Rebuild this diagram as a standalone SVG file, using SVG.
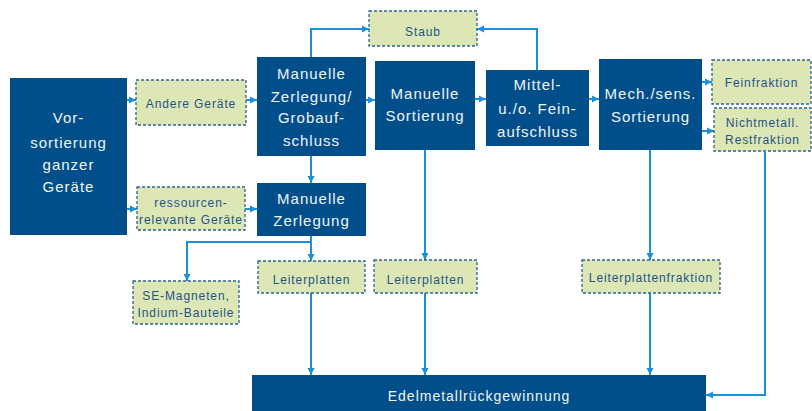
<svg xmlns="http://www.w3.org/2000/svg" width="812" height="411" viewBox="0 0 812 411">
<defs>
<style>
.b{fill:#004f8a}
.g{fill:#dde6b5;stroke:#2c6196;stroke-width:1.3;stroke-dasharray:3,2}
.tw{font-family:"Liberation Sans",Arial,sans-serif;font-size:15px;fill:#f0f4f8;letter-spacing:1px;text-anchor:middle}
.tg{font-family:"Liberation Sans",Arial,sans-serif;font-size:12px;fill:#1f5487;letter-spacing:0.9px;text-anchor:middle}
.c{fill:none;stroke:#1b8fdb;stroke-width:2;marker-end:url(#a)}
</style>
<marker id="a" markerUnits="userSpaceOnUse" markerWidth="8" markerHeight="8" refX="7" refY="4" orient="auto">
<path d="M0,0.5 L7,4 L0,7.5 z" fill="#1b8fdb"/>
</marker>
</defs>
<g id="connectors">
<path class="c" d="M127,100 H136"/>
<path class="c" d="M246,100 H257"/>
<path class="c" d="M127,209 H137"/>
<path class="c" d="M245,209 H257"/>
<path class="c" d="M311,57 V29 H369"/>
<path class="c" d="M537,70 V29 H477"/>
<path class="c" d="M366,100 H375"/>
<path class="c" d="M475,99 H486"/>
<path class="c" d="M589,99 H599"/>
<path class="c" d="M702,82 H712"/>
<path class="c" d="M702,131 H714"/>
<path class="c" d="M311,156 V183"/>
<path class="c" d="M311,236 V261"/>
<path class="c" d="M311,242 H187 V281"/>
<path class="c" d="M311,293 V375"/>
<path class="c" d="M425,150 V260"/>
<path class="c" d="M425,293 V375"/>
<path class="c" d="M650,150 V260"/>
<path class="c" d="M650,293 V375"/>
<path class="c" d="M765,152 V395 H706"/>
</g>
<g id="vorsortierung"><rect class="b" x="10" y="78" width="117" height="157"/>
<text class="tw" x="68.5" y="123">Vor-</text><text class="tw" x="68.5" y="148">sortierung</text><text class="tw" x="68.5" y="170">ganzer</text><text class="tw" x="68.5" y="192">Geräte</text></g>
<g id="andere"><rect class="g" x="136" y="80" width="110" height="45"/><text class="tg" x="191" y="108">Andere Geräte</text></g>
<g id="ressourcen"><rect class="g" x="137" y="187" width="108" height="43"/><text class="tg" x="191" y="207">ressourcen-</text><text class="tg" x="191" y="224">relevante Geräte</text></g>
<g id="grob"><rect class="b" x="257" y="57" width="109" height="99"/>
<text class="tw" x="311.5" y="79">Manuelle</text><text class="tw" x="311.5" y="102">Zerlegung/</text><text class="tw" x="311.5" y="123">Grobauf-</text><text class="tw" x="311.5" y="146">schluss</text></g>
<g id="zerlegung"><rect class="b" x="257" y="183" width="109" height="53"/>
<text class="tw" x="311.5" y="204">Manuelle</text><text class="tw" x="311.5" y="226">Zerlegung</text></g>
<g id="staub"><rect class="g" x="369" y="11" width="108" height="35"/><text class="tg" x="423" y="36">Staub</text></g>
<g id="sortierung"><rect class="b" x="375" y="61" width="100" height="89"/>
<text class="tw" x="425" y="99">Manuelle</text><text class="tw" x="425" y="121">Sortierung</text></g>
<g id="mittel"><rect class="b" x="486" y="70" width="103" height="76"/>
<text class="tw" x="537.5" y="90">Mittel-</text><text class="tw" x="537.5" y="114">u./o. Fein-</text><text class="tw" x="537.5" y="137">aufschluss</text></g>
<g id="mech"><rect class="b" x="599" y="59" width="103" height="91"/>
<text class="tw" x="650.5" y="99">Mech./sens.</text><text class="tw" x="650.5" y="122">Sortierung</text></g>
<g id="fein"><rect class="g" x="712" y="60" width="99" height="44"/><text class="tg" x="761.5" y="87">Feinfraktion</text></g>
<g id="nicht"><rect class="g" x="714" y="108" width="97" height="43"/><text class="tg" x="762.5" y="127">Nichtmetall.</text><text class="tg" x="762.5" y="144">Restfraktion</text></g>
<g id="se"><rect class="g" x="133" y="281" width="106" height="43"/><text class="tg" x="186" y="300">SE-Magneten,</text><text class="tg" x="186" y="317">Indium-Bauteile</text></g>
<g id="lp1"><rect class="g" x="258" y="261" width="107" height="32"/><text class="tg" x="311.5" y="284">Leiterplatten</text></g>
<g id="lp2"><rect class="g" x="374" y="260" width="103" height="33"/><text class="tg" x="425.5" y="284">Leiterplatten</text></g>
<g id="lpf"><rect class="g" x="582" y="260" width="138" height="33"/><text class="tg" x="651" y="282">Leiterplattenfraktion</text></g>
<g id="edel"><rect class="b" x="252" y="375" width="454" height="36"/><text class="tw" x="479" y="401" style="font-size:14px">Edelmetallrückgewinnung</text></g>
</svg>
